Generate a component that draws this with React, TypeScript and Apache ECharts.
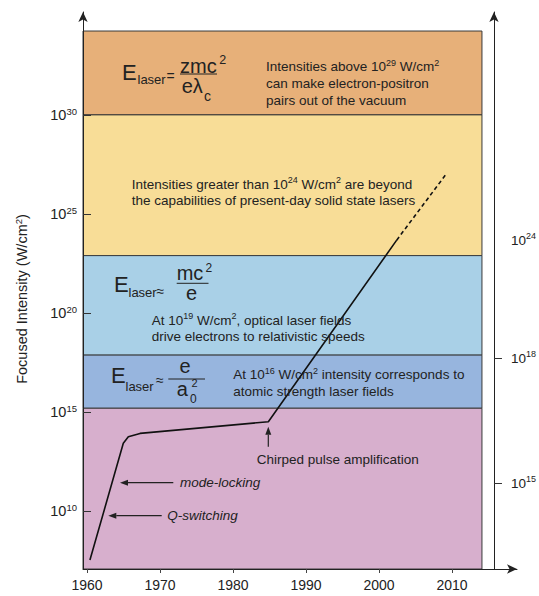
import React, { useEffect, useRef } from 'react';
import * as echarts from 'echarts';

// ---- data (exponents of intensity, log10 W/cm^2) ----
const years = [1960.4, 1964.97, 1965.66, 1967.26, 1984.84, 2002.42];
const intensityExp = [7.54, 13.43, 13.76, 13.93, 14.52, 23.68];
const projYears = [2002.42, 2009.27];
const projExp = [23.68, 27.05];

const bandLow = [30, 22.9, 17.88, 15.2, 7.09];
const bandHigh = [34.23, 30, 22.9, 17.88, 15.2];
const bandColors = ['#E7B079', '#F8DD97', '#A9D0E7', '#97B5DE', '#D7AFCD'];

const yearTicks = [1960, 1970, 1980, 1990, 2000, 2010];
const intensityTicks = [10, 15, 20, 25, 30];
const fieldLabels = [15, 18, 24];
const fieldLabelAt = [11.42, 17.73, 23.68];
const fieldTicksAt = [11.42, 17.73];

const X_MIN = 1959.45;
const X_MAX = 2018.9;
const BAND_RIGHT = 2014.1;
const Y_MIN = 7.09;
const Y_MAX = 35.19;

const FF = '"Liberation Sans", Arial, Helvetica, sans-serif';
const TXT = '#222';

const richBody = {
  t: { fontSize: 13.5, fontFamily: FF, fill: TXT, lineHeight: 16.7 },
  s: { fontSize: 9, fontFamily: FF, fill: TXT, lineHeight: 10, verticalAlign: 'top' },
};

function txt(x: number, y: number, text: string, fontSize: number, extra: any = {}) {
  return {
    type: 'text',
    x,
    y,
    z: 20,
    silent: true,
    style: {
      text,
      fontSize,
      fontFamily: FF,
      fill: TXT,
      align: 'left',
      verticalAlign: 'middle',
      ...extra,
    },
  };
}

function body(x: number, top: number, text: string, italic = false) {
  return {
    type: 'text',
    x,
    y: top,
    z: 20,
    silent: true,
    style: {
      text,
      rich: italic
        ? { t: { ...richBody.t, fontStyle: 'italic' }, s: richBody.s }
        : richBody,
      align: 'left',
      verticalAlign: 'top',
    },
  };
}

function bar(x1: number, x2: number, y: number) {
  return {
    type: 'line',
    z: 20,
    silent: true,
    shape: { x1, y1: y, x2, y2: y },
    style: { stroke: TXT, lineWidth: 1 },
  };
}

function arrow(x1: number, y1: number, x2: number, y2: number) {
  const dx = x2 - x1;
  const dy = y2 - y1;
  const len = Math.sqrt(dx * dx + dy * dy);
  const ux = dx / len;
  const uy = dy / len;
  const hl = 8;
  const hw = 3;
  const bx = x2 - ux * hl;
  const by = y2 - uy * hl;
  return [
    {
      type: 'line',
      z: 20,
      silent: true,
      shape: { x1, y1, x2: bx, y2: by },
      style: { stroke: TXT, lineWidth: 1.2 },
    },
    {
      type: 'polygon',
      z: 20,
      silent: true,
      shape: {
        points: [
          [x2, y2],
          [bx - uy * hw, by + ux * hw],
          [bx + uy * hw, by - ux * hw],
        ],
      },
      style: { fill: TXT },
    },
  ];
}

export default function App() {
  const ref = useRef<HTMLDivElement>(null);

  useEffect(() => {
    if (!ref.current) return;
    const chart = echarts.init(ref.current, undefined, { renderer: 'svg' });

    const supLabelRich = (size: number, sup: number) => ({
      b: { fontSize: size, fontFamily: FF, color: TXT, lineHeight: size + 3 },
      s: { fontSize: sup, fontFamily: FF, color: TXT, lineHeight: sup + 1, verticalAlign: 'top' },
    });

    const bandData = bandLow.map((lo, i) => [
      {
        xAxis: X_MIN,
        yAxis: lo,
        itemStyle: { color: bandColors[i], borderColor: '#3a3a3a', borderWidth: 1 },
      },
      { xAxis: BAND_RIGHT, yAxis: bandHigh[i] },
    ]);

    const graphic: any[] = [
      // y axis title
      {
        type: 'text',
        x: 22,
        y: 299,
        rotation: Math.PI / 2,
        z: 20,
        silent: true,
        style: {
          text: '{t|Focused Intensity (W/cm}{s|2}{t|)}',
          rich: {
            t: { fontSize: 14.5, fontFamily: FF, fill: TXT, lineHeight: 17 },
            s: { fontSize: 9.5, fontFamily: FF, fill: TXT, lineHeight: 10, verticalAlign: 'top' },
          },
          align: 'center',
          verticalAlign: 'middle',
        },
      },
      // orange band formula
      txt(122, 72, 'E', 22),
      txt(137.5, 79.5, 'laser', 13),
      txt(166.5, 76, '=', 14),
      txt(180, 65.8, 'zmc', 20, { lineHeight: 16 }),
      txt(219.3, 59.5, '2', 12.5),
      bar(180, 217, 74),
      txt(181.7, 85.8, 'eλ', 20, { lineHeight: 16 }),
      txt(204, 95.5, 'c', 14),
      body(266, 58.4, '{t|Intensities above 10}{s|29}{t| W/cm}{s|2}\n{t|can make electron-positron}\n{t|pairs out of the vacuum}'),
      // yellow band
      body(131.7, 175.7, '{t|Intensities greater than 10}{s|24}{t| W/cm}{s|2}{t| are beyond}\n{t|the capabilities of present-day solid state lasers}'),
      // light blue band formula
      txt(114, 284, 'E', 22),
      txt(128.5, 292, 'laser', 13),
      txt(156.5, 291, '≈', 14),
      txt(176.7, 273, 'mc', 20, { lineHeight: 16 }),
      txt(205.5, 267.5, '2', 12),
      bar(176.7, 208.5, 283.3),
      txt(186, 293.1, 'e', 20, { lineHeight: 16 }),
      body(151.7, 311.7, '{t|At 10}{s|19}{t| W/cm}{s|2}{t|, optical laser fields}\n{t|drive electrons to relativistic speeds}'),
      // medium blue band formula
      txt(111, 375.5, 'E', 22),
      txt(125.5, 386.4, 'laser', 13),
      txt(156, 380, '≈', 14),
      txt(179.5, 366, 'e', 20, { lineHeight: 15 }),
      bar(168.3, 205, 379),
      txt(176.7, 388.5, 'a', 20, { lineHeight: 14 }),
      txt(191.5, 383, '2', 11, { lineHeight: 10 }),
      txt(190, 399, '0', 12, { lineHeight: 11 }),
      body(233.3, 366.6, '{t|At 10}{s|16}{t| W/cm}{s|2}{t| intensity corresponds to}\n{t|atomic strength laser fields}'),
      // pink band annotations
      body(256.7, 451, '{t|Chirped pulse amplification}'),
      body(180, 474.4, '{t|mode-locking}', true),
      body(167.3, 507.4, '{t|Q-switching}', true),
      ...arrow(268.3, 446.7, 268.3, 426.7),
      ...arrow(173.3, 482.7, 120, 482.7),
      ...arrow(161.7, 515.7, 108.3, 515.7),
    ];

    const option: any = {
      animation: false,
      backgroundColor: '#ffffff',
      grid: [
        { left: 83, right: 22, top: 12, bottom: 27, containLabel: false },
        { left: 83, right: 44, top: 12, bottom: 27, containLabel: false },
      ],
      xAxis: [
        {
          type: 'value',
          gridIndex: 0,
          min: X_MIN,
          max: X_MAX,
          z: 10,
          axisLine: {
            show: true,
            symbol: ['none', 'arrow'],
            symbolSize: [7, 10],
            lineStyle: { color: '#222', width: 1 },
          },
          axisTick: {
            show: true,
            inside: false,
            length: 4,
            customValues: yearTicks,
            lineStyle: { color: '#444' },
          },
          axisLabel: {
            show: true,
            customValues: yearTicks,
            formatter: (v: number) => String(Math.round(v)),
            fontSize: 14,
            fontFamily: FF,
            color: TXT,
            margin: 9,
          },
          splitLine: { show: false },
        },
        {
          type: 'value',
          gridIndex: 1,
          min: X_MIN,
          max: X_MAX,
          show: false,
        },
      ],
      yAxis: [
        {
          type: 'value',
          gridIndex: 0,
          position: 'left',
          min: Y_MIN,
          max: Y_MAX,
          z: 10,
          axisLine: {
            show: true,
            symbol: ['none', 'arrow'],
            symbolSize: [7, 10],
            lineStyle: { color: '#222', width: 1 },
          },
          axisTick: {
            show: true,
            inside: true,
            length: 8,
            customValues: intensityTicks,
            lineStyle: { color: '#333' },
          },
          axisLabel: {
            show: true,
            customValues: intensityTicks,
            margin: 6,
            formatter: (v: number) => `{b|10}{s|${Math.round(v)}}`,
            rich: supLabelRich(14.5, 9.5),
          },
          splitLine: { show: false },
        },
        {
          type: 'value',
          gridIndex: 1,
          position: 'right',
          min: Y_MIN,
          max: Y_MAX,
          z: 10,
          axisLine: {
            show: true,
            symbol: ['none', 'arrow'],
            symbolSize: [7, 10],
            lineStyle: { color: '#222', width: 1 },
          },
          axisTick: {
            show: true,
            inside: false,
            length: 8,
            customValues: fieldTicksAt,
            lineStyle: { color: '#333' },
          },
          axisLabel: {
            show: true,
            customValues: fieldLabelAt,
            margin: 17,
            formatter: (v: number) => {
              let best = 0;
              fieldLabelAt.forEach((p, i) => {
                if (Math.abs(p - v) < Math.abs(fieldLabelAt[best] - v)) best = i;
              });
              return `{b|10}{s|${fieldLabels[best]}}`;
            },
            rich: supLabelRich(13.5, 9),
          },
          splitLine: { show: false },
        },
      ],
      series: [
        {
          type: 'line',
          xAxisIndex: 0,
          yAxisIndex: 0,
          data: years.map((y, i) => [y, intensityExp[i]]),
          showSymbol: false,
          symbol: 'none',
          lineStyle: { color: '#111', width: 1.6 },
          z: 5,
          silent: true,
          markArea: {
            silent: true,
            z: 1,
            label: { show: false },
            data: bandData,
          },
        },
        {
          type: 'line',
          xAxisIndex: 0,
          yAxisIndex: 0,
          data: projYears.map((y, i) => [y, projExp[i]]),
          showSymbol: false,
          symbol: 'none',
          lineStyle: { color: '#111', width: 1.6, type: [4, 3] },
          z: 5,
          silent: true,
        },
      ],
      graphic,
    };

    chart.setOption(option);
    return () => chart.dispose();
  }, []);

  return (
    <div
      ref={ref}
      style={{ position: 'absolute', left: 0, top: 0, width: 539, height: 596 }}
    />
  );
}
